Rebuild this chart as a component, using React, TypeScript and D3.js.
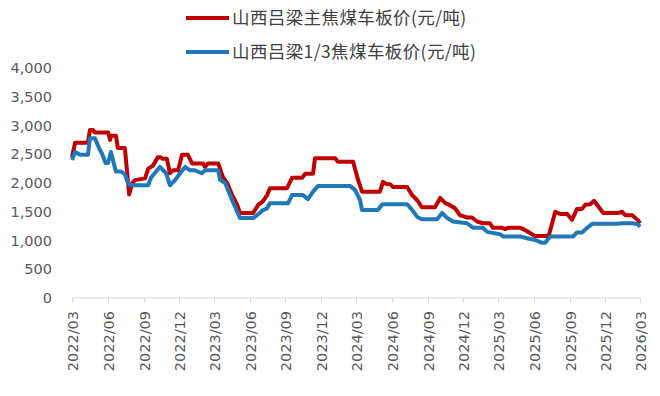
import React from 'react';
import * as d3 from 'd3';

const mainDates = [
  '2022-03-01', '2022-03-09', '2022-04-11', '2022-04-16', '2022-04-24', '2022-04-29', '2022-06-02', '2022-06-07',
  '2022-06-09', '2022-06-22', '2022-06-27', '2022-07-15', '2022-07-26', '2022-08-03', '2022-08-10', '2022-09-05',
  '2022-09-13', '2022-09-25', '2022-10-08', '2022-10-15', '2022-10-20', '2022-10-31', '2022-11-08', '2022-11-16',
  '2022-11-29', '2022-12-09', '2022-12-24', '2023-01-04', '2023-02-01', '2023-02-06', '2023-02-14', '2023-03-12',
  '2023-03-25', '2023-04-04', '2023-04-17', '2023-04-30', '2023-05-07', '2023-06-10', '2023-06-23', '2023-07-05',
  '2023-07-16', '2023-07-23', '2023-09-05', '2023-09-18', '2023-10-14', '2023-10-22', '2023-11-11', '2023-11-16',
  '2024-01-07', '2024-01-14', '2024-02-22', '2024-03-06', '2024-03-16', '2024-05-01', '2024-05-09', '2024-05-19',
  '2024-05-27', '2024-06-04', '2024-07-10', '2024-07-23', '2024-08-05', '2024-08-17', '2024-09-20', '2024-10-03',
  '2024-10-16', '2024-10-29', '2024-11-10', '2024-11-23', '2024-12-11', '2024-12-24', '2025-01-06', '2025-01-21',
  '2025-02-08', '2025-02-16', '2025-03-11', '2025-03-19', '2025-03-27', '2025-04-27', '2025-05-10', '2025-05-22',
  '2025-06-04', '2025-07-05', '2025-07-10', '2025-07-26', '2025-08-08', '2025-08-26', '2025-09-07', '2025-09-20',
  '2025-10-03', '2025-10-11', '2025-10-24', '2025-11-03', '2025-11-13', '2025-11-26', '2026-01-04', '2026-01-14',
  '2026-01-22', '2026-02-09', '2026-02-24', '2026-03-01',
];
const mainPrices = [
  2450, 2700, 2700, 2920, 2920, 2880, 2880, 2750,
  2820, 2820, 2610, 2610, 1800, 2000, 2050, 2080,
  2250, 2300, 2450, 2450, 2420, 2420, 2170, 2220,
  2220, 2490, 2490, 2340, 2340, 2280, 2340, 2340,
  2090, 2000, 1790, 1620, 1480, 1480, 1620, 1680,
  1790, 1910, 1910, 2090, 2090, 2160, 2160, 2430,
  2430, 2370, 2370, 2050, 1850, 1850, 2020, 1980,
  1980, 1930, 1930, 1790, 1700, 1580, 1580, 1740,
  1650, 1610, 1560, 1440, 1400, 1400, 1330, 1300,
  1300, 1220, 1220, 1200, 1220, 1220, 1180, 1130,
  1080, 1080, 1100, 1500, 1460, 1460, 1360, 1550,
  1550, 1620, 1630, 1690, 1600, 1480, 1480, 1500,
  1440, 1440, 1350, 1300,
];

const thirdDates = [
  '2022-03-01', '2022-03-09', '2022-03-22', '2022-04-11', '2022-04-16', '2022-04-29', '2022-05-10', '2022-05-18',
  '2022-05-26', '2022-06-02', '2022-06-09', '2022-06-22', '2022-07-05', '2022-07-15', '2022-07-23', '2022-07-28',
  '2022-09-13', '2022-09-20', '2022-10-13', '2022-10-29', '2022-11-08', '2022-11-21', '2022-12-04', '2022-12-17',
  '2022-12-30', '2023-01-11', '2023-01-29', '2023-02-06', '2023-03-12', '2023-03-17', '2023-03-30', '2023-04-17',
  '2023-05-07', '2023-06-10', '2023-06-20', '2023-07-05', '2023-07-16', '2023-07-23', '2023-09-08', '2023-09-18',
  '2023-10-16', '2023-10-29', '2023-11-11', '2023-11-24', '2024-02-14', '2024-02-27', '2024-03-11', '2024-03-16',
  '2024-04-26', '2024-05-07', '2024-07-10', '2024-07-23', '2024-08-05', '2024-08-17', '2024-09-25', '2024-10-08',
  '2024-10-21', '2024-11-05', '2024-12-11', '2024-12-27', '2025-01-21', '2025-02-01', '2025-03-06', '2025-03-14',
  '2025-04-27', '2025-05-15', '2025-06-04', '2025-06-22', '2025-06-30', '2025-07-13', '2025-09-10', '2025-09-20',
  '2025-10-03', '2025-10-16', '2025-10-29', '2026-01-01', '2026-01-14', '2026-02-09', '2026-02-24', '2026-03-01',
];
const thirdPrices = [
  2400, 2540, 2490, 2490, 2780, 2780, 2600, 2500,
  2350, 2350, 2540, 2200, 2200, 2150, 2000, 1960,
  1960, 2090, 2280, 2170, 1960, 2050, 2170, 2280,
  2220, 2220, 2170, 2220, 2220, 2050, 2000, 1700,
  1390, 1390, 1440, 1530, 1560, 1650, 1650, 1790,
  1790, 1720, 1850, 1950, 1950, 1880, 1700, 1530,
  1530, 1630, 1630, 1530, 1410, 1370, 1370, 1480,
  1390, 1330, 1300, 1220, 1220, 1150, 1110, 1070,
  1070, 1040, 1010, 960, 960, 1070, 1070, 1140,
  1140, 1220, 1290, 1290, 1300, 1300, 1280, 1240,
];

const yTicks = [0, 500, 1000, 1500, 2000, 2500, 3000, 3500, 4000];
const xTickDates = [
  '2022-03-01', '2022-06-01', '2022-09-01', '2022-12-01', '2023-03-01', '2023-06-01', '2023-09-01', '2023-12-01',
  '2024-03-01', '2024-06-01', '2024-09-01', '2024-12-01', '2025-03-01', '2025-06-01', '2025-09-01', '2025-12-01',
  '2026-03-01',
];
const seriesNames = ['山西吕梁主焦煤车板价(元/吨)', '山西吕梁1/3焦煤车板价(元/吨)'];
const seriesColors = ['#C00000', '#1F78BA'];

const parse = d3.timeParse('%Y-%m-%d');
const fmtTick = d3.timeFormat('%Y/%m');
const fmtVal = d3.format(',');

const width = 660;
const height = 396;
const margin = { top: 68, right: 20, bottom: 98, left: 72 };

export default function App() {
  const x = d3
    .scaleTime()
    .domain([parse('2022-03-01')!, parse('2026-03-01')!])
    .range([margin.left, 640]);
  const y = d3
    .scaleLinear()
    .domain([0, 4000])
    .range([height - margin.bottom, margin.top]);

  const line = d3
    .line<[Date, number]>()
    .x(d => x(d[0]))
    .y(d => y(d[1]));

  const series = [
    mainDates.map((d, i) => [parse(d)!, mainPrices[i]] as [Date, number]),
    thirdDates.map((d, i) => [parse(d)!, thirdPrices[i]] as [Date, number]),
  ];

  const font = '"DejaVu Sans", sans-serif';
  const cjk = '"Noto Sans CJK SC", sans-serif';
  const y0 = y(0);

  return (
    <svg
      width={width}
      height={height}
      style={{ position: 'absolute', left: 0, top: 0, background: '#fff' }}
    >
      {/* legend */}
      {seriesNames.map((name, i) => (
        <g key={name} transform={`translate(186, ${18 + i * 34})`}>
          <line x1={0} x2={43} y1={0} y2={0} stroke={seriesColors[i]} strokeWidth={4} />
          <text x={46} y={0} dy="0.35em" fontFamily={cjk} fontSize={17.5} letterSpacing={0.4} fill="#404040">
            {name}
          </text>
        </g>
      ))}

      {/* y labels */}
      {yTicks.map(t => (
        <text
          key={t}
          x={52}
          y={y(t)}
          dy="0.35em"
          textAnchor="end"
          fontFamily={font}
          fontSize={14.5}
          fill="#595959"
        >
          {fmtVal(t)}
        </text>
      ))}

      {/* x axis */}
      <line x1={x.range()[0]} x2={x.range()[1]} y1={y0} y2={y0} stroke="#D9D9D9" strokeWidth={1} />
      {xTickDates.map(d => {
        const xx = Math.round(x(parse(d)!)) + 0.5;
        return (
          <g key={d}>
            <line x1={xx} x2={xx} y1={y0} y2={y0 + 5} stroke="#D9D9D9" strokeWidth={1} />
            <text
              transform={`translate(${xx}, ${y0 + 13}) rotate(-90)`}
              dy="0.35em"
              textAnchor="end"
              fontFamily={font}
              fontSize={14.5}
              fill="#595959"
            >
              {fmtTick(parse(d)!)}
            </text>
          </g>
        );
      })}

      {/* series */}
      {series.map((s, i) => (
        <path
          key={i}
          d={line(s) ?? ''}
          fill="none"
          stroke={seriesColors[i]}
          strokeWidth={4}
          strokeLinejoin="round"
        />
      ))}
    </svg>
  );
}
